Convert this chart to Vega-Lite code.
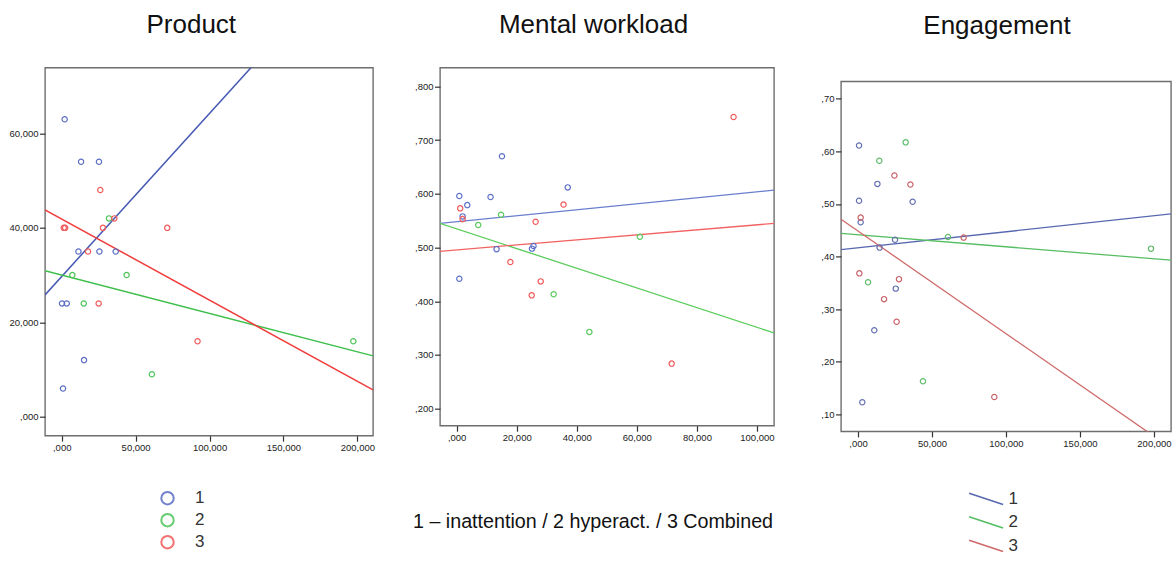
{
  "$schema": "https://vega.github.io/schema/vega-lite/v6.json",
  "background": "white",
  "padding": {"left": 8, "top": 10.7, "right": 0, "bottom": 0},
  "bounds": "flush",
  "spacing": 67,
  "config": {
    "font": "Liberation Sans",
    "view": {"stroke": "#6e6e6e", "strokeWidth": 1.4},
    "title": {"fontSize": 26, "fontWeight": "normal", "color": "#111", "baseline": "alphabetic", "anchor": "middle"},
    "axis": {"grid": false, "domain": false, "tickColor": "#333", "tickSize": 5.5, "tickWidth": 1.2, "labelFontSize": 9.5, "labelColor": "#222", "labelPadding": 1.5, "title": null},
    "legend": {"labelFontSize": 17, "labelColor": "#333", "padding": 0, "titlePadding": 0}
  },
  "datasets": {
    "product_pts": [
      {"x": 2.0, "y": 63.0, "group": "1"}, {"x": 13.1, "y": 54.0, "group": "1"}, {"x": 25.2, "y": 54.0, "group": "1"},
      {"x": 11.3, "y": 35.0, "group": "1"}, {"x": 25.5, "y": 35.0, "group": "1"}, {"x": 36.5, "y": 35.0, "group": "1"},
      {"x": 0.2, "y": 24.0, "group": "1"}, {"x": 3.4, "y": 24.0, "group": "1"}, {"x": 15.1, "y": 12.0, "group": "1"},
      {"x": 0.9, "y": 6.0, "group": "1"},
      {"x": 32.0, "y": 42.0, "group": "2"}, {"x": 7.2, "y": 30.0, "group": "2"}, {"x": 43.9, "y": 30.0, "group": "2"},
      {"x": 14.9, "y": 24.0, "group": "2"}, {"x": 61.0, "y": 9.0, "group": "2"}, {"x": 197.3, "y": 16.0, "group": "2"},
      {"x": 26.1, "y": 48.0, "group": "3"}, {"x": 35.6, "y": 42.0, "group": "3"}, {"x": 1.4, "y": 40.0, "group": "3"},
      {"x": 2.3, "y": 40.0, "group": "3"}, {"x": 27.9, "y": 40.0, "group": "3"}, {"x": 71.4, "y": 40.0, "group": "3"},
      {"x": 17.8, "y": 35.0, "group": "3"}, {"x": 25.0, "y": 24.0, "group": "3"}, {"x": 91.9, "y": 16.0, "group": "3"}
    ],
    "product_fit": [
      {"x": -11.3, "y": 25.8, "group": "1"}, {"x": 210.6, "y": 102.4, "group": "1"},
      {"x": -11.3, "y": 30.9, "group": "2"}, {"x": 210.6, "y": 12.9, "group": "2"},
      {"x": -11.3, "y": 43.8, "group": "3"}, {"x": 210.6, "y": 5.7, "group": "3"}
    ],
    "mw_pts": [
      {"x": 0.9, "y": 0.596, "group": "1"}, {"x": 3.55, "y": 0.579, "group": "1"}, {"x": 11.3, "y": 0.594, "group": "1"},
      {"x": 15.1, "y": 0.670, "group": "1"}, {"x": 37.0, "y": 0.612, "group": "1"}, {"x": 2.0, "y": 0.558, "group": "1"},
      {"x": 13.3, "y": 0.497, "group": "1"}, {"x": 25.6, "y": 0.503, "group": "1"}, {"x": 25.1, "y": 0.498, "group": "1"},
      {"x": 0.9, "y": 0.442, "group": "1"},
      {"x": 7.2, "y": 0.542, "group": "2"}, {"x": 14.8, "y": 0.561, "group": "2"}, {"x": 61.0, "y": 0.520, "group": "2"},
      {"x": 32.3, "y": 0.413, "group": "2"}, {"x": 44.2, "y": 0.343, "group": "2"},
      {"x": 1.2, "y": 0.573, "group": "3"}, {"x": 2.0, "y": 0.553, "group": "3"}, {"x": 35.6, "y": 0.580, "group": "3"},
      {"x": 26.3, "y": 0.548, "group": "3"}, {"x": 17.9, "y": 0.473, "group": "3"}, {"x": 28.0, "y": 0.437, "group": "3"},
      {"x": 25.0, "y": 0.411, "group": "3"}, {"x": 71.6, "y": 0.284, "group": "3"}, {"x": 92.2, "y": 0.743, "group": "3"}
    ],
    "mw_fit": [
      {"x": -5.55, "y": 0.545, "group": "1"}, {"x": 105.7, "y": 0.607, "group": "1"},
      {"x": -5.55, "y": 0.545, "group": "2"}, {"x": 105.7, "y": 0.341, "group": "2"},
      {"x": -5.55, "y": 0.493, "group": "3"}, {"x": 105.7, "y": 0.545, "group": "3"}
    ],
    "eng_pts": [
      {"x": 0.7, "y": 0.611, "group": "1"}, {"x": 13.1, "y": 0.538, "group": "1"}, {"x": 0.7, "y": 0.506, "group": "1"},
      {"x": 36.9, "y": 0.504, "group": "1"}, {"x": 1.8, "y": 0.465, "group": "1"}, {"x": 25.0, "y": 0.432, "group": "1"},
      {"x": 14.6, "y": 0.417, "group": "1"}, {"x": 25.5, "y": 0.339, "group": "1"}, {"x": 11.0, "y": 0.260, "group": "1"},
      {"x": 2.9, "y": 0.123, "group": "1"},
      {"x": 32.2, "y": 0.617, "group": "2"}, {"x": 14.4, "y": 0.582, "group": "2"}, {"x": 60.8, "y": 0.437, "group": "2"},
      {"x": 6.8, "y": 0.351, "group": "2"}, {"x": 43.9, "y": 0.163, "group": "2"}, {"x": 198.0, "y": 0.415, "group": "2"},
      {"x": 24.6, "y": 0.554, "group": "3"}, {"x": 35.4, "y": 0.537, "group": "3"}, {"x": 1.8, "y": 0.474, "group": "3"},
      {"x": 71.4, "y": 0.436, "group": "3"}, {"x": 0.9, "y": 0.368, "group": "3"}, {"x": 27.7, "y": 0.357, "group": "3"},
      {"x": 17.6, "y": 0.319, "group": "3"}, {"x": 26.1, "y": 0.276, "group": "3"}, {"x": 92.1, "y": 0.133, "group": "3"}
    ],
    "eng_fit": [
      {"x": -11.5, "y": 0.413, "group": "1"}, {"x": 211.5, "y": 0.481, "group": "1"},
      {"x": -11.5, "y": 0.444, "group": "2"}, {"x": 211.5, "y": 0.393, "group": "2"},
      {"x": -11.5, "y": 0.471, "group": "3"}, {"x": 211.5, "y": 0.036, "group": "3"}
    ],
    "blank": [{"t": ""}]
  },
  "hconcat": [
    {
      "width": 328, "height": 368,
      "title": {"text": "Product", "offset": 30, "dx": -17.7},
      "resolve": {"scale": {"color": "independent"}},
      "layer": [
        {
          "data": {"name": "product_fit"},
          "mark": {"type": "line", "clip": true, "strokeWidth": 1.5},
          "encoding": {
            "x": {"field": "x", "type": "quantitative", "scale": {"domain": [-11.3, 210.6], "nice": false, "zero": false},
                  "axis": {"values": [0, 50, 100, 150, 200], "labelExpr": "replace(replace(format(datum.value, '.3f'), '.', ','), /^0,/, ',')"}},
            "y": {"field": "y", "type": "quantitative", "scale": {"domain": [-4.0, 73.9], "nice": false, "zero": false},
                  "axis": {"values": [0, 20, 40, 60], "labelExpr": "replace(replace(format(datum.value, '.3f'), '.', ','), /^0,/, ',')"}},
            "color": {"field": "group", "type": "nominal", "scale": {"domain": ["1", "2", "3"], "range": ["#4558b2", "#3dbf4a", "#f03c3c"]}, "legend": null}
          }
        },
        {
          "data": {"name": "product_pts"},
          "mark": {"type": "point", "shape": "circle", "filled": false, "size": 28, "strokeWidth": 1.2, "opacity": 1},
          "encoding": {
            "x": {"field": "x", "type": "quantitative"},
            "y": {"field": "y", "type": "quantitative"},
            "color": {"field": "group", "type": "nominal", "scale": {"domain": ["1", "2", "3"], "range": ["#5b6dc4", "#4cc458", "#f05a5a"]},
                      "legend": {"title": null, "orient": "none", "legendX": 114, "legendY": 422, "direction": "vertical",
                                 "symbolType": "circle", "symbolSize": 154, "symbolStrokeWidth": 2, "symbolOpacity": 0.85,
                                 "labelOffset": 19, "rowPadding": 1}}
          }
        }
      ]
    },
    {
      "width": 334, "height": 358,
      "title": {"text": "Mental workload", "offset": 30, "dx": -13.5},
      "resolve": {"scale": {"color": "independent"}},
      "layer": [
        {
          "data": {"name": "mw_fit"},
          "mark": {"type": "line", "clip": true, "strokeWidth": 1.3},
          "encoding": {
            "x": {"field": "x", "type": "quantitative", "scale": {"domain": [-5.53, 105.67], "nice": false, "zero": false},
                  "axis": {"values": [0, 20, 40, 60, 80, 100], "labelExpr": "replace(replace(format(datum.value, '.3f'), '.', ','), /^0,/, ',')",
                           "title": "1 – inattention / 2 hyperact. / 3 Combined", "titleFontSize": 19.7, "titleFontWeight": "normal", "titleColor": "#111",
                           "titleX": 152.5, "titleY": 95.5, "titleBaseline": "middle", "titleAnchor": "middle", "titleAlign": "center"}},
            "y": {"field": "y", "type": "quantitative", "scale": {"domain": [0.1684, 0.8348], "nice": false, "zero": false},
                  "axis": {"values": [0.2, 0.3, 0.4, 0.5, 0.6, 0.7, 0.8], "labelExpr": "replace(replace(format(datum.value, '.3f'), '.', ','), /^0,/, ',')"}},
            "color": {"field": "group", "type": "nominal", "scale": {"domain": ["1", "2", "3"], "range": ["#6a7ecf", "#5ccc5c", "#f26262"]}, "legend": null}
          }
        },
        {
          "data": {"name": "mw_pts"},
          "mark": {"type": "point", "shape": "circle", "filled": false, "size": 28, "strokeWidth": 1.2, "opacity": 1},
          "encoding": {
            "x": {"field": "x", "type": "quantitative"},
            "y": {"field": "y", "type": "quantitative"},
            "color": {"field": "group", "type": "nominal", "scale": {"domain": ["1", "2", "3"], "range": ["#5d70c8", "#57c95a", "#f25a5a"]}, "legend": null}
          }
        }
      ]
    },
    {
      "bounds": "flush",
      "spacing": 12.7,
      "vconcat": [
        {
          "width": 330, "height": 1,
          "title": {"text": "Engagement", "offset": 23, "dx": -9},
          "view": {"stroke": null},
          "data": {"name": "blank"},
          "mark": {"type": "text"},
          "encoding": {"text": {"field": "t", "type": "nominal"}}
        },
        {
          "width": 330, "height": 350,
          "resolve": {"scale": {"color": "independent"}},
          "layer": [
            {
              "data": {"name": "eng_fit"},
              "mark": {"type": "line", "clip": true, "strokeWidth": 1.3},
              "encoding": {
                "x": {"field": "x", "type": "quantitative", "scale": {"domain": [-11.5, 211.5], "nice": false, "zero": false},
                      "axis": {"values": [0, 50, 100, 150, 200], "labelExpr": "replace(replace(format(datum.value, '.3f'), '.', ','), /^0,/, ',')"}},
                "y": {"field": "y", "type": "quantitative", "scale": {"domain": [0.0677, 0.7328], "nice": false, "zero": false},
                      "axis": {"values": [0.1, 0.2, 0.3, 0.4, 0.5, 0.6, 0.7], "labelExpr": "replace(replace(format(datum.value, '.2f'), '.', ','), /^0,/, ',')"}},
                "color": {"field": "group", "type": "nominal", "scale": {"domain": ["1", "2", "3"], "range": ["#5868b0", "#55bd62", "#d06a6a"]},
                          "legend": {"title": null, "orient": "none", "legendX": 136.6, "legendY": 409, "direction": "vertical",
                                     "symbolType": "M-2.4,-0.8L2.4,0.8", "symbolSize": 200, "symbolStrokeWidth": 1.6,
                                     "labelOffset": 14, "rowPadding": 4.5}}
              }
            },
            {
              "data": {"name": "eng_pts"},
              "mark": {"type": "point", "shape": "circle", "filled": false, "size": 28, "strokeWidth": 1.2, "opacity": 1},
              "encoding": {
                "x": {"field": "x", "type": "quantitative"},
                "y": {"field": "y", "type": "quantitative"},
                "color": {"field": "group", "type": "nominal", "scale": {"domain": ["1", "2", "3"], "range": ["#6570b0", "#5fbb6a", "#c8646c"]}, "legend": null}
              }
            }
          ]
        }
      ]
    }
  ]
}
